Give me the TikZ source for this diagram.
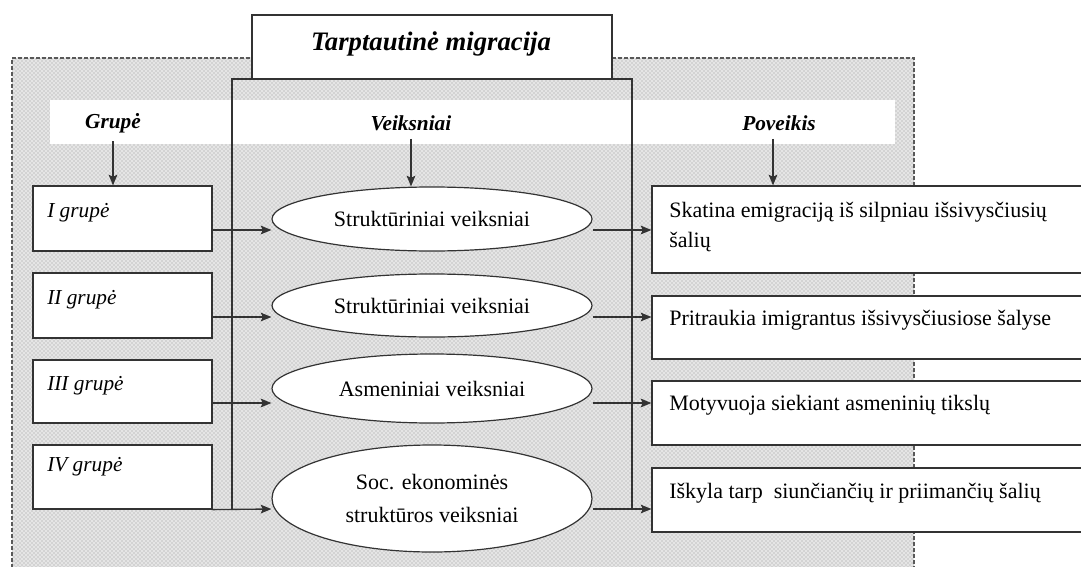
\documentclass[tikz,border=0pt]{standalone}
\usepackage{fontspec}
\setmainfont{Liberation Serif}
\usetikzlibrary{arrows.meta,fit,patterns,shapes.geometric}
\begin{document}
\begin{tikzpicture}[x=0.75pt,y=-0.75pt,
  ln/.style={draw=black!80, line width=0.9pt},
  box/.style={ln, fill=white, inner sep=0pt},
  ell/.style={ln, fill=white, ellipse, inner sep=0pt, minimum width=240pt, font=\fontsize{16.5}{25}\selectfont, align=center},
  arr/.style={draw=black!80, line width=1pt, -{Stealth[length=8pt,width=6.5pt,inset=1.5pt]}},
  hdr/.style={inner sep=1pt, font=\fontsize{16}{19}\selectfont\bfseries\itshape},
  ttl/.style={inner sep=1pt, font=\fontsize{20}{24}\selectfont\bfseries\itshape},
  glbl/.style={anchor=west, inner sep=0pt, font=\fontsize{16}{19}\selectfont\itshape},
  plbl/.style={anchor=west, inner sep=0pt, align=left, font=\fontsize{16.5}{22.5}\selectfont},
  stipple/.style={preaction={fill=black!10}, pattern=crosshatch dots, pattern color=black!40}
]
\useasboundingbox (0,0) rectangle (1081,567);
\clip (0,0) rectangle (1081,567);

% stippled background region with dashed border
\path[stipple] (12,58) rectangle (914,580);
\draw[draw=black!65, line width=0.9pt, dash pattern=on 3pt off 1.5pt]
  (12,580) -- (12,58) -- (914,58) -- (914,580);
% white header band
\fill[white] (50,100) rectangle (895,144);

% inner frame (Veiksniai)
\coordinate (fl) at (232,509);
\coordinate (fr) at (632,509);
\draw[ln] (fl) -- (232,79) -- (632,79) -- (fr);

% title box
\node[box, fit={(252,15) (612,79)}] (title) {};
\node[ttl] (titletext) at (431,44) {Tarptautinė migracija};

% headers
\node[hdr] (hg) at (113,123) {Grupė};
\node[hdr] (hv) at (411,123) {Veiksniai};
\node[hdr] (hp) at (779,123) {Poveikis};

% row levels
\coordinate (r1) at (0,230);
\coordinate (r2) at (0,317);
\coordinate (r3) at (0,403);
\coordinate (r4) at (0,509);

% group boxes
\node[box, fit={(33,186) (212,251)}] (g1) {};
\node[box, fit={(33,273) (212,338)}] (g2) {};
\node[box, fit={(33,360) (212,423)}] (g3) {};
\node[box, fit={(33,445) (212,509)}] (g4) {};
\node[glbl] (gl1) at (47,213) {I grupė};
\node[glbl] (gl2) at (47,300) {II grupė};
\node[glbl] (gl3) at (47,386) {III grupė};
\node[glbl] (gl4) at (47,467) {IV grupė};

% factor ellipses
\node[ell, minimum height=48pt] (e1) at (432,219) {Struktūriniai veiksniai};
\node[ell, minimum height=47.25pt] (e2) at (432,305.5) {Struktūriniai veiksniai};
\node[ell, minimum height=51.75pt] (e3) at (432,388.5) {Asmeniniai veiksniai};
\node[ell, minimum height=80.25pt] (e4) at (432,498.5) {Soc. ekonominės\\struktūros veiksniai};

% effect boxes
\node[box, fit={(652,186) (1095,273)}] (p1) {};
\node[box, fit={(652,296) (1095,359)}] (p2) {};
\node[box, fit={(652,381) (1095,445)}] (p3) {};
\node[box, fit={(652,468) (1095,532)}] (p4) {};
\node[plbl] (pl1) at (669,227) {Skatina emigraciją iš silpniau išsivysčiusių\\šalių};
\node[plbl] (pl2) at (669,320) {Pritraukia imigrantus išsivysčiusiose šalyse};
\node[plbl] (pl3) at (669,405) {Motyvuoja siekiant asmeninių tikslų};
\node[plbl] (pl4) at (669,493) {Iškyla tarp\ \ siunčiančių ir priimančių šalių};

% header arrows
\draw[arr] ([yshift=-5pt]hg.south) -- (hg.south |- g1.north);
\draw[arr] ([yshift=-5pt]hv.south) -- (hv.south |- e1.north);
\draw[arr] ([yshift=-5pt]hp.south -| 773,0) -- (773,0 |- p1.north);

% group -> factor arrows
\draw[arr] (g1.east |- r1) -- (e1.west |- r1);
\draw[arr] (g2.east |- r2) -- (e2.west |- r2);
\draw[arr] (g3.east |- r3) -- (e3.west |- r3);
\draw[arr] (g4.south east) -- (e4.west |- r4);

% factor -> effect arrows
\draw[arr] (e1.east |- r1) -- (p1.west |- r1);
\draw[arr] (e2.east |- r2) -- (p2.west |- r2);
\draw[arr] (e3.east |- r3) -- (p3.west |- r3);
\draw[arr] (e4.east |- r4) -- (p4.west |- r4);
\end{tikzpicture}
\end{document}
